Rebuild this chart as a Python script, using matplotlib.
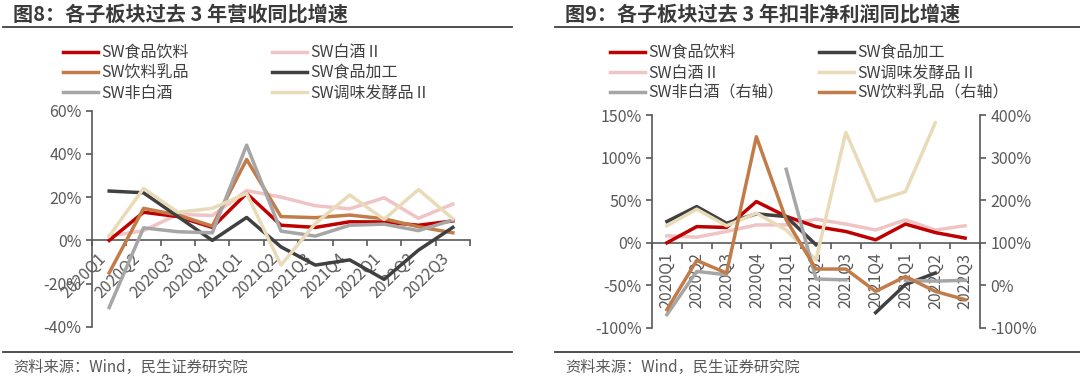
import numpy as np
import matplotlib
matplotlib.use('Agg')
import matplotlib.pyplot as plt
from matplotlib.lines import Line2D

plt.rcParams['font.family'] = ['Noto Sans CJK SC', 'DejaVu Sans']
plt.rcParams['axes.unicode_minus'] = False

#%% data
quarters = ['2020Q1', '2020Q2', '2020Q3', '2020Q4', '2021Q1', '2021Q2',
            '2021Q3', '2021Q4', '2022Q1', '2022Q2', '2022Q3']

# 图8 营收同比增速 (%)
rev_food_bev = [0, 13, 11, 6, 21.7, 7, 6, 8.6, 8.5, 7, 9]
rev_baijiu = [2, 4.5, 12, 11.5, 23, 20, 16, 14.6, 19.7, 10.2, 16.8]
rev_dairy = [-15, 14.8, 11.7, 6.6, 37.4, 11, 10.5, 11.7, 10, 6.3, 3.5]
rev_food_proc = [22.8, 22, 11, 0, 10.6, -3, -11.4, -9, -18, -4.5, 6]
rev_non_baijiu = [-31, 5.8, 4, 3.5, 44, 4.3, 2, 7, 7.5, 4.5, 9.4]
rev_seasoning = [2, 24, 13, 14.8, 21.7, -11.4, 7.8, 21, 9.7, 23.5, 10]

# 图9 扣非净利润同比增速 (%), 非白酒/饮料乳品为右轴
np_food_bev = [0, 19, 18, 48.4, 31, 19, 13.3, 3.5, 22, 12, 5.5]
np_food_proc = [25, 42.5, 23, 34, 30.8, -2.3, np.nan, -82, -49, -35.5, np.nan]
np_baijiu = [8.2, 6.6, 13.3, 21, 21, 27.7, 22, 15, 27, 15, 20]
np_seasoning = [20, 39.5, 20, 34.8, 15, -20, 129.6, 49, 60, 140.9, np.nan]
np_non_baijiu = [-68.6, 32.8, 25, np.nan, 272.6, 15, 13, np.nan, 12, 10, 12]
np_dairy = [-57, 58.6, 29, 349, 154, 38.4, 38.4, -14, 21, -14, -33.5]

#%% style
C_RED = '#C00000'
C_PINK = '#F0C4C4'
C_BROWN = '#C27C4A'
C_DARK = '#404040'
C_GRAY = '#A6A6A6'
C_BEIGE = '#EADBB8'
TXT = '#595959'
LW = 2.5
FS = 11.5

fig = plt.figure(figsize=(10.8, 3.79), dpi=100)


def style_axis(ax, ylim, yticks, rot):
    x = np.arange(len(quarters))
    ax.set_xlim(-0.5, len(quarters) - 0.5)
    ax.set_ylim(*ylim)
    ax.set_yticks(yticks)
    ax.set_yticklabels(['%d%%' % v for v in yticks])
    ax.spines['top'].set_visible(False)
    ax.spines['right'].set_visible(False)
    ax.spines['bottom'].set_position(('data', 0))
    for s in ['left', 'bottom']:
        ax.spines[s].set_color(TXT)
        ax.spines[s].set_linewidth(1.2)
    ax.set_xticks(x)
    ax.set_xticks(np.arange(len(quarters) + 1) - 0.5, minor=True)
    ax.tick_params(axis='x', which='major', length=0, pad=7)
    ax.tick_params(axis='x', which='minor', length=4, width=1.2, color=TXT, direction='out')
    ax.tick_params(axis='y', length=4, width=1.2, color=TXT, labelcolor=TXT, labelsize=FS)
    if rot == 45:
        ax.set_xticklabels(quarters, rotation=45, ha='right', va='top',
                           color=TXT, fontsize=FS)
    else:
        ax.set_xticklabels(quarters, rotation=90, ha='center', va='top',
                           color=TXT, fontsize=FS)
    return x


def header(x0, x1, title):
    fig.text(x0 + 10 / 1080, 1 - 14 / 379, title, fontsize=14.5, fontweight='bold',
             color='#3a3a3a', va='center', ha='left')
    fig.add_artist(Line2D([x0, x1], [1 - 27 / 379, 1 - 27 / 379],
                          transform=fig.transFigure, color='#404040', lw=1.3))
    fig.add_artist(Line2D([x0, x1], [1 - 352 / 379, 1 - 352 / 379],
                          transform=fig.transFigure, color='#404040', lw=1.3))
    fig.text(x0 + 10 / 1080, 1 - 367 / 379, '资料来源：Wind，民生证券研究院',
             fontsize=11, color=TXT, va='center', ha='left')


def col_legend(handles, labels, xpx):
    fig.legend(handles, labels, loc='upper left',
               bbox_to_anchor=(xpx / 1080, 1 - 44.5 / 379),
               frameon=False, fontsize=FS, handlelength=2.2,
               handletextpad=0.2, labelspacing=0.2, borderpad=0,
               borderaxespad=0, labelcolor='#404040')


#%% 图8
ax1 = fig.add_axes([92 / 1080, 1 - 327 / 379, (470 - 92) / 1080, (327 - 110.5) / 379])
x = style_axis(ax1, (-40, 60), [-40, -20, 0, 20, 40, 60], 45)
l_food, = ax1.plot(x, rev_food_bev, color=C_RED, lw=LW, zorder=3)
l_pink, = ax1.plot(x, rev_baijiu, color=C_PINK, lw=LW, zorder=2)
l_dairy, = ax1.plot(x, rev_dairy, color=C_BROWN, lw=LW, zorder=4)
l_proc, = ax1.plot(x, rev_food_proc, color=C_DARK, lw=LW, zorder=4)
l_non, = ax1.plot(x, rev_non_baijiu, color=C_GRAY, lw=LW, zorder=5)
l_seas, = ax1.plot(x, rev_seasoning, color=C_BEIGE, lw=LW, zorder=6)

header(3 / 1080, 512 / 1080, '图8：各子板块过去 3 年营收同比增速')
col_legend([l_food, l_dairy, l_non], ['SW食品饮料', 'SW饮料乳品', 'SW非白酒'], 63)
col_legend([l_pink, l_proc, l_seas], ['SW白酒Ⅱ', 'SW食品加工', 'SW调味发酵品Ⅱ'], 272)

#%% 图9
ax2 = fig.add_axes([652 / 1080, 1 - 328 / 379, (980 - 652) / 1080, (328 - 115) / 379])
x = style_axis(ax2, (-100, 150), [-100, -50, 0, 50, 100, 150], 90)
r_food, = ax2.plot(x, np_food_bev, color=C_RED, lw=LW, zorder=3)
r_proc, = ax2.plot(x, np_food_proc, color=C_DARK, lw=LW, zorder=4)
r_pink, = ax2.plot(x, np_baijiu, color=C_PINK, lw=LW, zorder=2)
r_seas, = ax2.plot(x, np_seasoning, color=C_BEIGE, lw=LW, zorder=5)

ax3 = ax2.twinx()
ax3.set_ylim(-100, 400)
ax3.set_yticks([-100, 0, 100, 200, 300, 400])
ax3.set_yticklabels(['%d%%' % v for v in [-100, 0, 100, 200, 300, 400]])
for s in ['top', 'left', 'bottom']:
    ax3.spines[s].set_visible(False)
ax3.spines['right'].set_color(TXT)
ax3.spines['right'].set_linewidth(1.2)
ax3.tick_params(axis='y', length=4, width=1.2, color=TXT, labelcolor=TXT, labelsize=FS)
r_non, = ax3.plot(x, np_non_baijiu, color=C_GRAY, lw=LW, zorder=2)
r_dairy, = ax3.plot(x, np_dairy, color=C_BROWN, lw=LW, zorder=3)

header(555 / 1080, 1080 / 1080, '图9：各子板块过去 3 年扣非净利润同比增速')
col_legend([r_food, r_pink, r_non], ['SW食品饮料', 'SW白酒Ⅱ', 'SW非白酒（右轴）'], 610)
col_legend([r_proc, r_seas, r_dairy], ['SW食品加工', 'SW调味发酵品Ⅱ', 'SW饮料乳品（右轴）'], 819)

fig.savefig('out.png', dpi=100)
